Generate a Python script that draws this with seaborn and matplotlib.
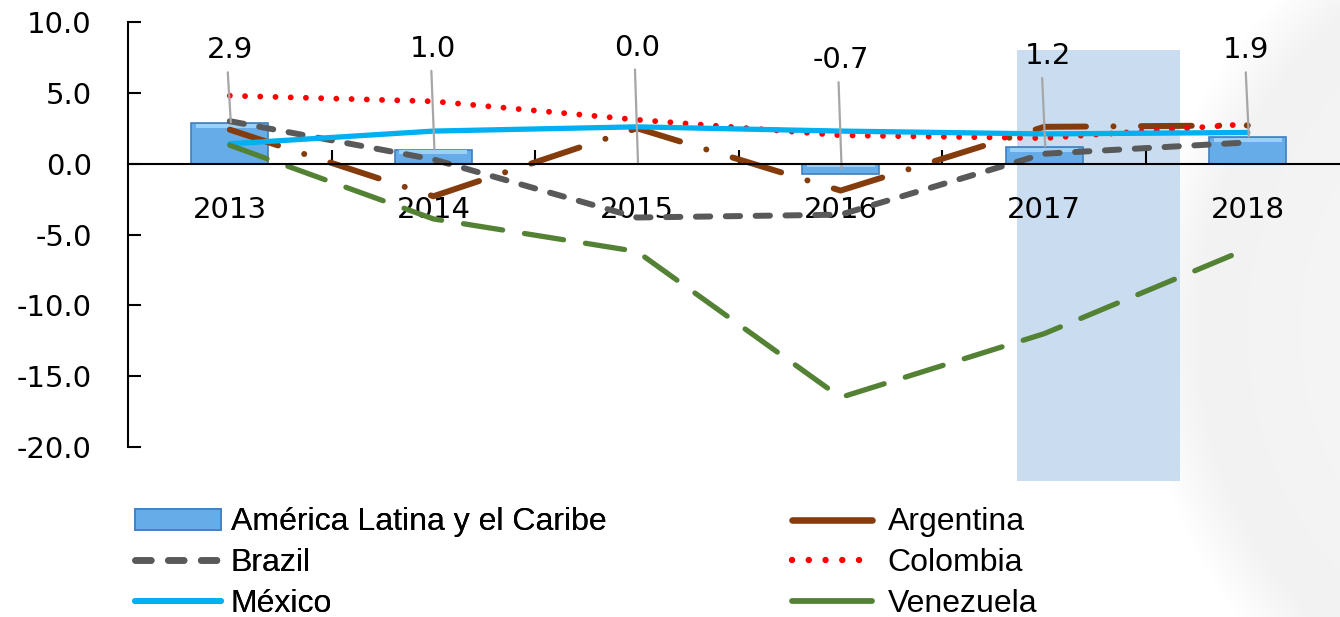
import numpy as np
import pandas as pd
import matplotlib
matplotlib.use("Agg")
import matplotlib.pyplot as plt
import seaborn as sns
from matplotlib.patches import Rectangle, Patch
from matplotlib.lines import Line2D

# ---------------- data ----------------
years = [2013, 2014, 2015, 2016, 2017, 2018]
america_latina = [2.9, 1.0, 0.0, -0.7, 1.2, 1.9]
argentina = [2.4, -2.3, 2.5, -1.9, 2.6, 2.7]
brazil = [3.0, 0.3, -3.8, -3.6, 0.7, 1.5]
colombia = [4.8, 4.4, 3.1, 2.0, 1.8, 2.8]
mexico = [1.4, 2.3, 2.6, 2.3, 2.1, 2.2]
venezuela = [1.3, -3.9, -6.2, -16.5, -12.0, -6.0]
bar_labels = ["2.9", "1.0", "0.0", "-0.7", "1.2", "1.9"]
y_ticks = [10, 5, 0, -5, -10, -15, -20]
y_tick_labels = ["10.0", "5.0", "0.0", "-5.0", "-10.0", "-15.0", "-20.0"]
series_names = ["América Latina y el Caribe", "Argentina", "Brazil",
                "Colombia", "México", "Venezuela"]

# ---------------- style ----------------
sns.set_theme(style="white")
plt.rcParams["font.family"] = ["DejaVu Sans"]
plt.rcParams["text.color"] = "black"

W, H = 1340, 617
fig = plt.figure(figsize=(W / 100, H / 100), dpi=100)
fig.patch.set_facecolor("white")

# faint globe background on the right
ax_bg = fig.add_axes([0, 0, 1, 1], zorder=-5)
yy, xx = np.mgrid[0:H, 0:W]
r = np.hypot(xx - 1610, (yy - 330) * 1.0)
inside = np.clip((470 - r) / 60.0, 0, 1)
shade = 1 - inside * (0.035 + 0.02 * np.clip((r - 200) / 270, 0, 1))
ax_bg.imshow(np.dstack([shade, shade, shade]), aspect="auto", interpolation="bilinear")
ax_bg.axis("off")

left_px, right_px = 128, 128 + 6 * 203.6
ax = fig.add_axes([left_px / W, 1 - 447 / H, (right_px - left_px) / W, (447 - 22) / H], zorder=1)
ax.set_facecolor("none")

# highlight rectangle (forecast zone)
ax.add_patch(Rectangle((2016.865, -22.4), 0.8, 30.45, facecolor="#CADDF0",
                       edgecolor="none", zorder=0, clip_on=False))

# bars
bar_face, bar_edge = "#66ACE8", "#3F7FBF"
sns.barplot(x=years, y=america_latina, native_scale=True, width=0.38,
            color=bar_face, saturation=1, edgecolor=bar_edge, linewidth=1.2,
            errorbar=None, ax=ax, zorder=2)
# bevel highlight on each bar (derived from the drawn bar patches)
for p in list(ax.patches):
    if p.get_facecolor()[:3] == matplotlib.colors.to_rgb(bar_face) and abs(p.get_height()) > 0.05:
        x0, w = p.get_x(), p.get_width()
        y0, hgt = p.get_y(), p.get_height()
        lo, hi = min(y0, y0 + hgt), max(y0, y0 + hgt)
        ins = min(0.35, (hi - lo) * 0.3)
        ax.add_patch(Rectangle((x0 + w * 0.06, hi - ins), w * 0.88, ins * 0.8,
                               facecolor="#9CD0F7", edgecolor="none", zorder=2.1))

line_specs = [
    (argentina, "#843C0C", 4.3, (0, (8.5, 4.6, 0.01, 4.6))),
    (brazil, "#595959", 4.3, (0, (2.4, 2.6))),
    (colombia, "#FF0000", 4.2, (0, (0.01, 2.6))),
    (mexico, "#00B0F0", 3.8, "-"),
    (venezuela, "#548235", 3.8, (0, (7.5, 4.2))),
]
for vals, col, lw, ls in line_specs:
    sns.lineplot(x=years, y=vals, color=col, linewidth=lw, linestyle=ls, ax=ax, zorder=3)
    ln = ax.lines[-1]
    ln.set_dash_capstyle("round")
    ln.set_solid_capstyle("round")

# data labels with leader lines
label_y = [8.0, 8.1, 8.2, 7.3, 7.6, 8.0]
label_dx = [0.0, 0.0, 0.0, 0.0, 0.02, -0.01]
for yr, v, t, ly, dx in zip(years, america_latina, bar_labels, label_y, label_dx):
    ax.text(yr + dx, ly, t, ha="center", va="center", fontsize=21, color="black", zorder=5)
    ax.plot([yr - 0.01, yr + 0.005], [ly - 1.55, v + 0.02 if v >= 0 else v / 2],
            color="#A6A6A6", lw=1.6, zorder=4)

# axes
ax.set_xlim(2012.5, 2018.5)
ax.set_ylim(-20, 10)
ax.set_yticks(y_ticks)
ax.set_yticklabels(y_tick_labels)
ax.set_xticks(years)
ax.set_xticklabels([str(y) for y in years])
ax.set_xticks([y + 0.5 for y in years[:-1]], minor=True)
ax.tick_params(axis="y", direction="in", length=9, width=1.5, colors="black",
               labelsize=21, pad=26, left=True)
ax.tick_params(axis="x", which="major", length=0, labelsize=21, pad=23, bottom=True,
               labelcolor="black")
ax.tick_params(axis="x", which="minor", direction="in", length=10, width=1.5,
               color="black", bottom=True)
for s in ["top", "right"]:
    ax.spines[s].set_visible(False)
ax.spines["left"].set_color("black")
ax.spines["left"].set_linewidth(1.5)
ax.spines["bottom"].set_position(("data", 0))
ax.spines["bottom"].set_color("black")
ax.spines["bottom"].set_linewidth(1.5)
ax.spines["bottom"].set_zorder(4)
ax.set_xlabel("")
ax.set_ylabel("")
ax.grid(False)

# legends
fam = ["Liberation Sans", "DejaVu Sans"]
h_bar = Patch(facecolor=bar_face, edgecolor=bar_edge, linewidth=1.2)
h = {}
for name, (vals, col, lw, ls) in zip(series_names[1:], line_specs):
    if name in ("Argentina", "Venezuela"):
        ls = "-"
    h[name] = Line2D([], [], color=col, lw=lw * 1.1, linestyle=ls,
                     dash_capstyle="round", solid_capstyle="round")

leg1 = fig.legend([h_bar, h["Brazil"], h["México"]],
                  ["América Latina y el Caribe", "Brazil", "México"],
                  loc="center left", bbox_to_anchor=(135 / W, 1 - 563 / H),
                  frameon=False, borderpad=0, borderaxespad=0, handlelength=2.7,
                  handleheight=0.65, handletextpad=0.3, labelspacing=0.33,
                  labelcolor="black", prop={"family": fam, "size": 23})
leg2 = fig.legend([h["Argentina"], h["Colombia"], h["Venezuela"]],
                  ["Argentina", "Colombia", "Venezuela"],
                  loc="center left", bbox_to_anchor=(792 / W, 1 - 563 / H),
                  frameon=False, borderpad=0, borderaxespad=0, handlelength=2.5,
                  handleheight=0.65, handletextpad=0.5, labelspacing=0.33,
                  labelcolor="black", prop={"family": fam, "size": 23})
fig.add_artist(leg1)

fig.savefig("out.png", dpi=100, facecolor="white")
